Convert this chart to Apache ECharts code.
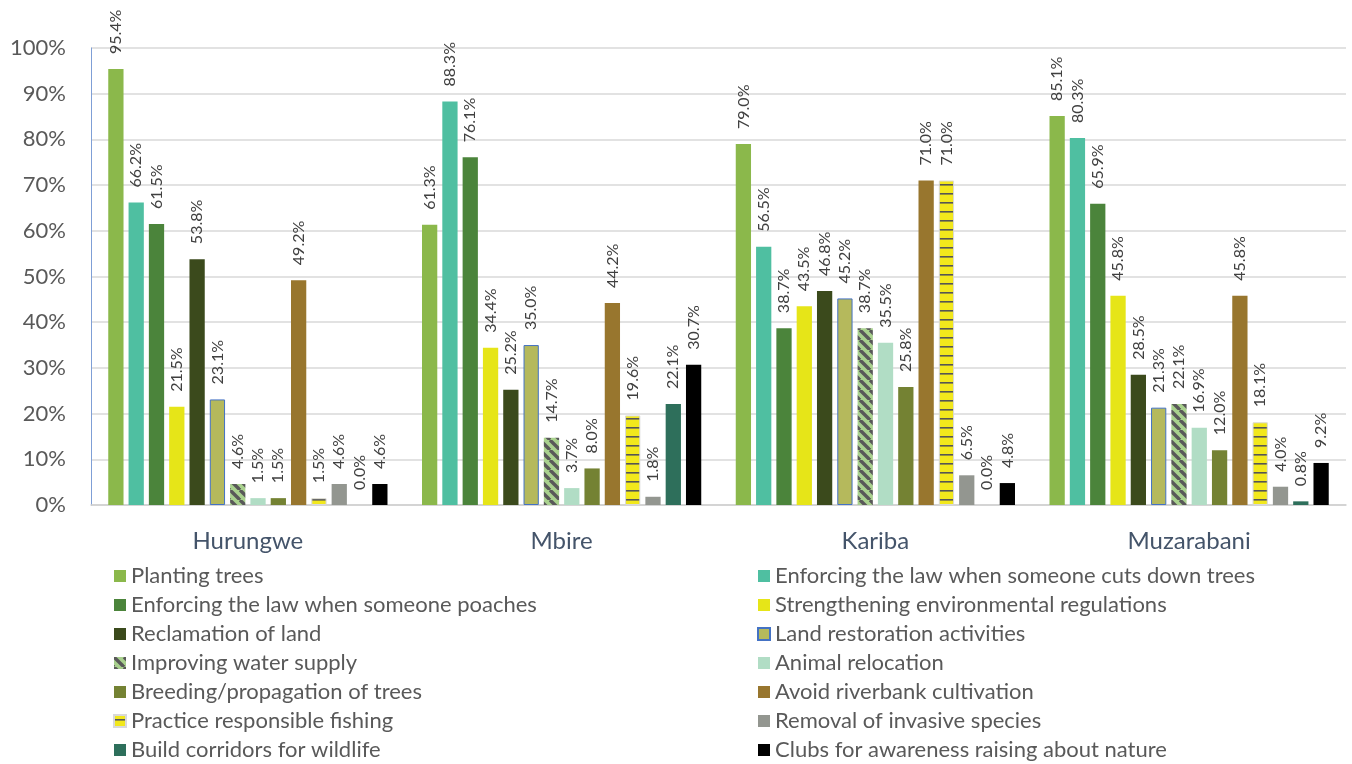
<!DOCTYPE html>
<html>
<head>
<meta charset="utf-8">
<script src="https://cdn.jsdelivr.net/npm/echarts@6/dist/echarts.min.js"></script>
<style>
  html, body { margin: 0; padding: 0; background: #fff; }
  #main { width: 1352px; height: 764px; }
</style>
</head>
<body>
<div id="main"></div>
<script>
// districts on the x axis
const districts = ['Hurungwe', 'Mbire', 'Kariba', 'Muzarabani']

const seriesNames = [
  'Planting trees',
  'Enforcing the law when someone cuts down trees',
  'Enforcing the law when someone poaches',
  'Strengthening environmental regulations',
  'Reclamation of land',
  'Land restoration activities',
  'Improving water supply',
  'Animal relocation',
  'Breeding/propagation of trees',
  'Avoid riverbank cultivation',
  'Practice responsible fishing',
  'Removal of invasive species',
  'Build corridors for wildlife',
  'Clubs for awareness raising about nature'
]

// percentages per district, one array per series (Hurungwe, Mbire, Kariba, Muzarabani)
const plantingTrees = [95.4, 61.3, 79.0, 85.1]
const lawCutsTrees = [66.2, 88.3, 56.5, 80.3]
const lawPoaches = [61.5, 76.1, 38.7, 65.9]
const strengthening = [21.5, 34.4, 43.5, 45.8]
const reclamation = [53.8, 25.2, 46.8, 28.5]
const landRestoration = [23.1, 35.0, 45.2, 21.3]
const waterSupply = [4.6, 14.7, 38.7, 22.1]
const animalRelocation = [1.5, 3.7, 35.5, 16.9]
const breeding = [1.5, 8.0, 25.8, 12.0]
const riverbank = [49.2, 44.2, 71.0, 45.8]
const fishing = [1.5, 19.6, 71.0, 18.1]
const invasive = [4.6, 1.8, 6.5, 4.0]
const corridors = [0.0, 22.1, 0.0, 0.8]
const clubs = [4.6, 30.7, 4.8, 9.2]

const seriesValues = [plantingTrees, lawCutsTrees, lawPoaches, strengthening, reclamation,
  landRestoration, waterSupply, animalRelocation, breeding, riverbank, fishing, invasive,
  corridors, clubs]

// diagonal stripes for "Improving water supply"
function stripePattern () {
  const n = 10
  const c = document.createElement('canvas')
  c.width = n; c.height = n
  const g = c.getContext('2d')
  g.fillStyle = '#a9d18e'
  g.fillRect(0, 0, n, n)
  g.strokeStyle = '#595959'
  g.lineWidth = 3.4
  for (const o of [-n, 0, n]) {
    g.beginPath(); g.moveTo(o, 0); g.lineTo(o + n, n); g.stroke()
  }
  return c
}

// horizontal dashes on yellow for "Practice responsible fishing"
function dashPattern () {
  const c = document.createElement('canvas')
  c.width = 4; c.height = 9
  const g = c.getContext('2d')
  g.fillStyle = '#f2e81c'
  g.fillRect(0, 0, 4, 9)
  g.fillStyle = '#555555'
  g.fillRect(0, 4, 4, 1.6)
  return c
}

const colors = [
  '#8bb84b', '#4fbfa1', '#4b843b', '#e6e518', '#3b4a1c',
  '#b5b95c', { image: stripePattern(), repeat: 'repeat' }, '#b1ddc5', '#748233',
  '#98762e', { image: dashPattern(), repeat: 'repeat' }, '#939690', '#2e6f5b', '#000000'
]

const series = seriesNames.map((name, i) => {
  const s = {
    name: name,
    type: 'bar',
    data: seriesValues[i],
    barGap: '33%',
    barCategoryGap: '11%',
    itemStyle: { color: colors[i] },
    label: {
      show: true,
      position: 'top',
      rotate: 90,
      align: 'left',
      verticalAlign: 'middle',
      distance: 15,
      fontFamily: 'Lato',
      fontSize: 16,
      color: '#404040',
      formatter: p => p.value.toFixed(1) + '%'
    }
  }
  if (i === 5) s.itemStyle = { color: colors[i], borderColor: '#4472c4', borderWidth: 1 }
  if (i === 10) s.itemStyle = { color: colors[i], borderColor: '#d9d9d9', borderWidth: 1 }
  return s
})

const legendLeft = seriesNames.filter((n, i) => i % 2 === 0)
const legendRight = seriesNames.filter((n, i) => i % 2 === 1)

const legendBase = {
  orient: 'vertical',
  top: 560,
  height: 260,
  itemWidth: 12,
  itemHeight: 12,
  itemGap: 7,
  icon: 'rect',
  textStyle: { fontFamily: 'Lato', fontSize: 22, lineHeight: 20, color: '#595959' }
}

const option = {
  animation: false,
  textStyle: { fontFamily: 'Lato' },
  grid: { left: 91, right: 6, top: 48, bottom: 259 },
  legend: [
    Object.assign({}, legendBase, { left: 108, data: legendLeft }),
    Object.assign({}, legendBase, { left: 752, data: legendRight })
  ],
  xAxis: {
    type: 'category',
    data: districts,
    axisTick: { show: false },
    axisLine: { lineStyle: { color: '#d0d0d0', width: 1.5 } },
    axisLabel: { fontFamily: 'Lato', fontSize: 24, color: '#44546a', margin: 24 }
  },
  yAxis: {
    type: 'value',
    min: 0,
    max: 100,
    interval: 10,
    axisLine: { show: true, lineStyle: { color: '#7f9fd6', width: 1 } },
    axisTick: { show: false },
    splitLine: { lineStyle: { color: '#d9d9d9', width: 1.5 } },
    axisLabel: { fontFamily: 'Lato', fontSize: 22, color: '#595959', margin: 25, formatter: '{value}%' }
  },
  series: series
}

echarts.init(document.getElementById('main')).setOption(option)
</script>
</body>
</html>
